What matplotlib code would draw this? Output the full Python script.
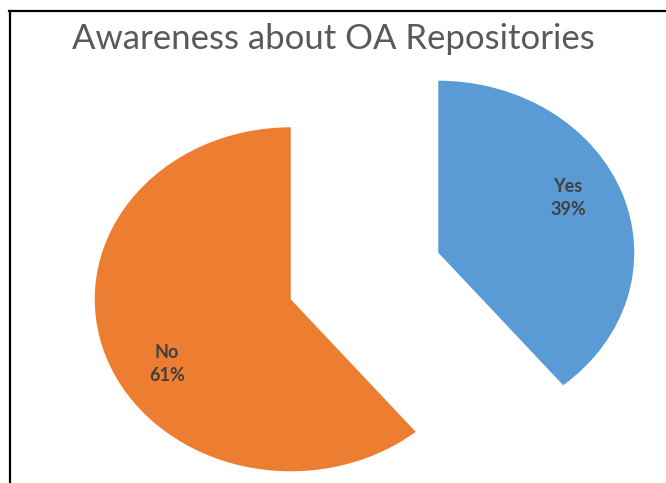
import matplotlib
matplotlib.use("Agg")
import matplotlib.pyplot as plt
from matplotlib.lines import Line2D
import numpy as np

categories = ["Yes", "No"]
values = [39, 61]
colors = ["#5B9BD5", "#ED7D31"]
title = "Awareness about OA Repositories"

W, H = 666, 483
fig = plt.figure(figsize=(W / 100, H / 100), dpi=100)
ax = fig.add_axes([0, 0, 1, 1])

wedges, texts = ax.pie(values, colors=colors, startangle=90, counterclock=False,
                       explode=[0.4, 0.4], radius=1.0,
                       wedgeprops=dict(linewidth=0))[:2]

# labels inside wedges (small angular shift to mimic Excel best-fit placement)
label_shift_deg = [6, 11]
for w, cat, v, sh in zip(wedges, categories, values, label_shift_deg):
    mid = np.deg2rad((w.theta1 + w.theta2) / 2 + sh)
    cx, cy = w.center
    r = 0.735
    ax.text(cx + r * np.cos(mid), cy + r * np.sin(mid), f"{cat}\n{v}%",
            ha="center", va="center", fontsize=13, color="#404040",
            family="Lato", fontweight="bold", linespacing=1.45)

# non-uniform scale: 196 px per unit in x, 172 px per unit in y
cx_px, cy_px = 364.5, 276
ax.set_xlim(-cx_px / 196, (W - cx_px) / 196)
ax.set_ylim(-(H - cy_px) / 172, cy_px / 172)
ax.set_aspect("auto")
ax.axis("off")

fig.text(333 / W, 1 - 39 / H, title, ha="center", va="center", fontsize=25,
         color="#595959", family="Lato")

# border box (top and left edges visible)
fig.add_artist(Line2D([9 / W, 1], [1 - 10.5 / H, 1 - 10.5 / H], color="black", lw=1.6,
                      transform=fig.transFigure))
fig.add_artist(Line2D([9.5 / W, 9.5 / W], [0, 1 - 10.5 / H], color="black", lw=1.6,
                      transform=fig.transFigure))

fig.savefig("out.png", dpi=100, facecolor="white")
